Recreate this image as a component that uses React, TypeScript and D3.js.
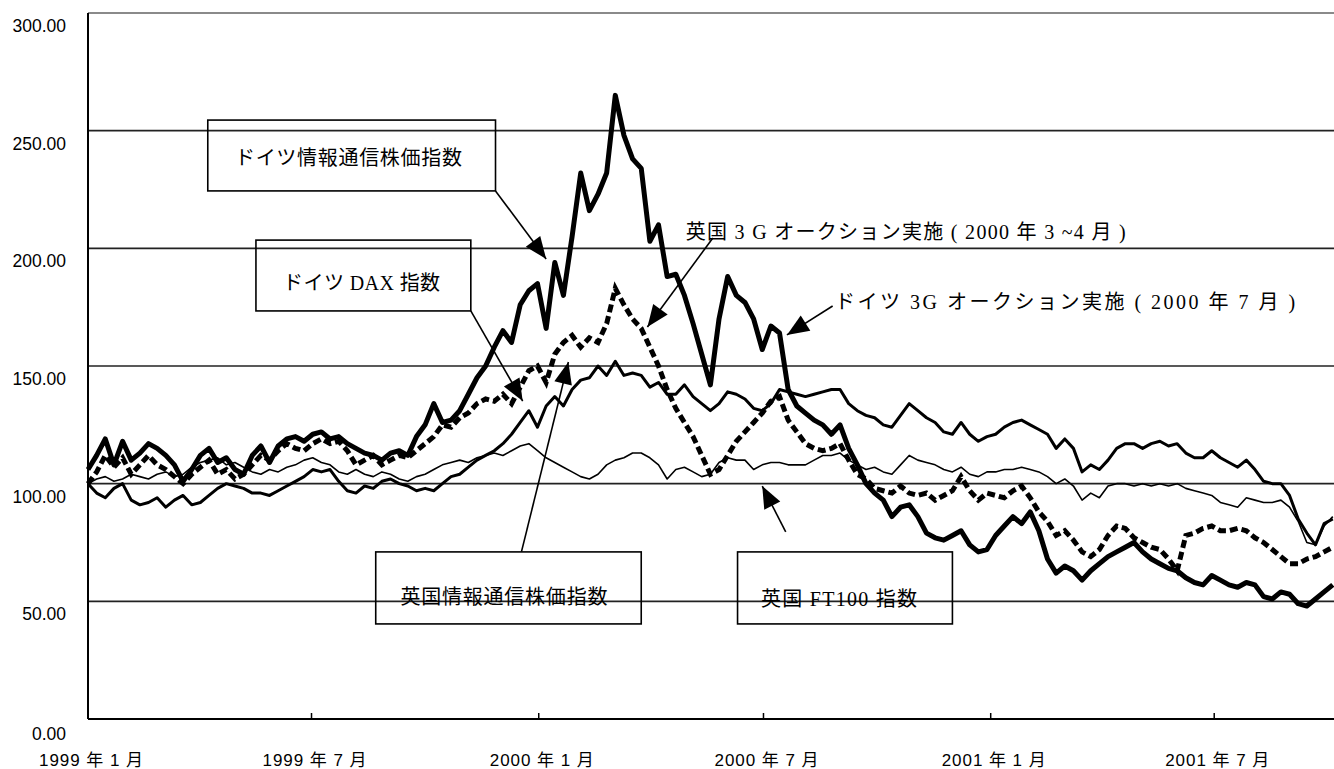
import * as d3 from "d3";

// weekly closes, index 1999/1 = 100, one value per week from 1999-01-01
const START = new Date(1999, 0, 1);
const END = new Date(2001, 9, 6);

const deTelecom = [
  106, 112, 119, 108, 118, 110, 113, 117, 115, 112, 108, 101, 106, 112, 115, 109, 111, 106, 104, 112,
  116, 109, 116, 119, 120, 118, 121, 122, 119, 120, 117, 115, 113, 112, 110, 113, 114, 112, 120, 125,
  134, 126, 127, 131, 138, 145, 150, 158, 165, 160, 176, 182, 185, 166, 194, 180, 205, 232, 216, 223,
  232, 265, 248, 238, 234, 203, 210, 188, 189, 180, 168, 155, 142, 170, 188, 180, 177, 170, 157, 167,
  164, 140, 133, 130, 127, 125, 121, 125, 115, 108, 100, 96, 93, 86, 90, 91, 86, 79, 77, 76,
  78, 80, 74, 71, 72, 78, 82, 86, 83, 88, 80, 68, 62, 65, 63, 59, 63, 66, 69, 71,
  73, 75, 71, 68, 66, 64, 63, 60, 58, 57, 61, 59, 57, 56, 58, 57, 52, 51, 54, 53,
  49, 48, 51, 54, 57,
];

const ukTelecom = [
  100, 105, 112, 107, 111, 104, 108, 112, 108, 106, 103, 100, 104, 107, 110, 104, 106, 102, 104, 108,
  112, 110, 114, 117, 115, 114, 117, 119, 117, 118, 114, 108, 110, 112, 108, 110, 112, 111, 114, 117,
  120, 125, 124, 128, 130, 134, 136, 135, 138, 134, 141, 148, 150, 143, 155, 160, 163, 158, 162, 160,
  168, 183, 176, 170, 166, 158, 150, 140, 132, 126, 120, 112, 104, 106, 112, 118, 122, 126, 130, 135,
  137, 127, 122, 117, 115, 114, 115, 117, 110, 104, 102, 98, 97, 96, 99, 96, 95, 96, 93, 95,
  97, 103, 97, 93, 96, 95, 94, 97, 99, 94, 88, 84, 78, 80, 76, 71, 69, 72, 78, 82,
  81, 77, 75, 73, 72, 68, 63, 78, 79, 81, 82, 80, 80, 81, 80, 77, 75, 72, 69, 66,
  66, 68, 69, 71, 73,
];

const dax = [
  100, 96, 94, 98, 100, 93, 91, 92, 94, 90, 93, 95, 91, 92, 95, 98, 100, 99, 98, 96,
  96, 95, 97, 99, 101, 103, 106, 105, 106, 101, 97, 96, 99, 98, 101, 102, 100, 99, 97, 98,
  97, 100, 103, 104, 107, 110, 112, 114, 117, 121, 126, 131, 124, 133, 137, 133, 140, 144, 145, 150,
  146, 152, 146, 147, 146, 141, 143, 138, 138, 142, 137, 134, 131, 134, 139, 138, 136, 132, 131, 134,
  140, 139, 138, 137, 138, 139, 140, 140, 134, 131, 129, 128, 125, 124, 129, 134, 131, 128, 126, 122,
  121, 126, 121, 118, 120, 121, 124, 126, 127, 125, 123, 121, 115, 119, 115, 105, 108, 106, 110, 115,
  117, 117, 115, 117, 118, 116, 117, 113, 111, 111, 114, 111, 109, 107, 110, 106, 101, 100, 100, 95,
  85, 79, 74, 83, 85,
];

const ft100 = [
  100, 102, 103, 101, 102, 104, 103, 102, 104, 105, 103, 104, 107, 109, 110, 111, 108, 109, 107, 105,
  104, 106, 105, 107, 108, 110, 111, 109, 108, 105, 104, 106, 104, 103, 105, 104, 102, 101, 103, 104,
  106, 108, 109, 110, 109, 111, 112, 113, 112, 114, 116, 117, 114, 111, 109, 107, 105, 103, 102, 104,
  108, 110, 111, 113, 113, 111, 108, 102, 106, 107, 105, 103, 104, 109, 111, 110, 110, 106, 108, 109,
  109, 108, 108, 108, 110, 112, 112, 113, 110, 108, 106, 107, 105, 104, 108, 112, 110, 109, 108, 106,
  105, 107, 104, 103, 105, 105, 106, 106, 107, 106, 105, 103, 100, 102, 99, 93, 96, 94, 99, 100,
  100, 99, 100, 99, 100, 99, 100, 98, 97, 96, 95, 92, 91, 90, 94, 93, 92, 92, 93, 90,
  84, 75, 74, 82, 86,
];

const yTicks = [0, 50, 100, 150, 200, 250, 300];
const xTicks = ["1999-01-01", "1999-07-01", "2000-01-01", "2000-07-01", "2001-01-01", "2001-07-01"];
const xTickLabels = ["1999 年 1 月", "1999 年 7 月", "2000 年 1 月", "2000 年 7 月", "2001 年 1 月", "2001 年 7 月"];

// boxed labels, in data coordinates
const boxes = [
  { text: "ドイツ情報通信株価指数", from: "1999-04-08", to: "1999-11-27", top: 254.5, bottom: 224.4, textAt: "1999-04-30", textY: 238.5, width: 227 },
  { text: "ドイツ DAX 指数", from: "1999-05-17", to: "1999-11-07", top: 203.5, bottom: 173.4, textAt: "1999-06-08", textY: 185.3, width: 157 },
  { text: "英国情報通信株価指数", from: "1999-08-22", to: "2000-03-24", top: 71, bottom: 40.4, textAt: "1999-09-11", textY: 51.8, width: 207 },
  { text: "英国 FT100 指数", from: "2000-06-10", to: "2000-12-01", top: 71, bottom: 40.4, textAt: "2000-06-29", textY: 51, width: 156 },
];

const notes = [
  { text: "英国 3 G オークション実施 ( 2000 年 3 ~4 月 )", at: "2000-04-29", y: 206.8, width: 440 },
  { text: "ドイツ 3G オークション実施 ( 2000 年 7 月 )", at: "2000-08-28", y: 177, width: 460 },
];

const arrows = [
  { from: ["1999-11-27", 224.4], to: ["2000-01-07", 195.5] },
  { from: ["1999-11-07", 173.4], to: ["1999-12-19", 135.1] },
  { from: ["1999-12-18", 71], to: ["2000-01-25", 151.7] },
  { from: ["2000-07-19", 79.5], to: ["2000-06-30", 99] },
  { from: ["2000-05-21", 204.4], to: ["2000-03-29", 166.6] },
  { from: ["2000-08-26", 175.5], to: ["2000-07-20", 163.2] },
];

const W = 1334;
const H = 769;
const LEFT = 88;
const TOP = 13;
const BOTTOM = 719;

const parse = d3.timeParse("%Y-%m-%d");
const weeks = d3.range(deTelecom.length).map(i => d3.timeDay.offset(START, i * 7));

const SERIF_JP = "'Liberation Serif', 'Noto Sans CJK JP', serif";
const SANS_JP = "'Liberation Sans', Arial, 'Noto Sans CJK JP', sans-serif";

export default function App() {
  const x = d3.scaleTime().domain([START, END]).range([LEFT, W]);
  const y = d3.scaleLinear().domain([0, 300]).range([BOTTOM, TOP]);

  const line = d3.line<number>()
    .x((_, i) => x(weeks[i]))
    .y(d => y(d));

  const arrowHead = (x1: number, y1: number, x2: number, y2: number) => {
    const len = Math.hypot(x2 - x1, y2 - y1);
    const ux = (x2 - x1) / len, uy = (y2 - y1) / len;
    const L = 22, hw = 9;
    const bx = x2 - ux * L, by = y2 - uy * L;
    return `M${x2},${y2}L${bx - uy * hw},${by + ux * hw}L${bx + uy * hw},${by - ux * hw}Z`;
  };

  return (
    <svg width={W} height={H} style={{ position: "absolute", left: 0, top: 0, background: "#fff" }}>
      {/* grid */}
      {yTicks.filter(t => t > 0 && t < 300).map(t => (
        <line key={t} x1={LEFT} x2={W} y1={y(t)} y2={y(t)} stroke="#222" strokeWidth={1.6} />
      ))}
      <line x1={LEFT} x2={W} y1={TOP} y2={TOP} stroke="#8a8a8a" strokeWidth={2} />

      {/* y labels */}
      {yTicks.map(t => (
        <text key={t} x={66} y={y(t) + (t === 0 ? 15 : 13)} textAnchor="end" dominantBaseline="central"
          fontFamily={SANS_JP} fontSize={17.5} fill="#000">{t.toFixed(2)}</text>
      ))}

      {/* x axis */}
      <line x1={LEFT} x2={W} y1={BOTTOM} y2={BOTTOM} stroke="#000" strokeWidth={2} />
      {xTicks.map((d, i) => {
        const px = x(parse(d)!);
        return (
          <g key={d}>
            {i > 0 && <line x1={px} x2={px} y1={BOTTOM} y2={BOTTOM - 6} stroke="#000" strokeWidth={1.5} />}
            <text x={px + 3} y={760} textAnchor="middle" dominantBaseline="central"
              textLength={104} lengthAdjust="spacing"
              fontFamily={SANS_JP} fontSize={17} fill="#000">{xTickLabels[i]}</text>
          </g>
        );
      })}
      <line x1={LEFT} x2={LEFT} y1={TOP} y2={BOTTOM} stroke="#000" strokeWidth={2} />

      {/* series */}
      <path d={line(ft100)!} fill="none" stroke="#000" strokeWidth={1.6} strokeLinejoin="round" />
      <path d={line(dax)!} fill="none" stroke="#000" strokeWidth={3} strokeLinejoin="round" />
      <path d={line(ukTelecom)!} fill="none" stroke="#000" strokeWidth={5} strokeDasharray="8,4" />
      <path d={line(deTelecom)!} fill="none" stroke="#000" strokeWidth={5} strokeLinejoin="round" />

      {/* boxed labels */}
      {boxes.map(b => {
        const x0 = x(parse(b.from)!), x1 = x(parse(b.to)!);
        const y0 = y(b.top), y1 = y(b.bottom);
        return (
          <g key={b.text}>
            <rect x={x0} y={y0} width={x1 - x0} height={y1 - y0} fill="none" stroke="#000" strokeWidth={1.6} />
            <text x={x(parse(b.textAt)!)} y={y(b.textY)} dominantBaseline="central"
              textLength={b.width} lengthAdjust="spacing"
              fontFamily={SERIF_JP} fontSize={20} fill="#000">{b.text}</text>
          </g>
        );
      })}

      {/* free notes */}
      {notes.map(n => (
        <text key={n.text} x={x(parse(n.at)!)} y={y(n.y)} dominantBaseline="central"
          textLength={n.width} lengthAdjust="spacing"
          fontFamily={SERIF_JP} fontSize={20} fill="#000">{n.text}</text>
      ))}

      {/* arrows */}
      {arrows.map((a, i) => {
        const x1 = x(parse(a.from[0] as string)!), y1 = y(a.from[1] as number);
        const x2 = x(parse(a.to[0] as string)!), y2 = y(a.to[1] as number);
        return (
          <g key={i}>
            <line x1={x1} y1={y1} x2={x2} y2={y2} stroke="#000" strokeWidth={1.6} />
            <path d={arrowHead(x1, y1, x2, y2)} fill="#000" />
          </g>
        );
      })}
    </svg>
  );
}
